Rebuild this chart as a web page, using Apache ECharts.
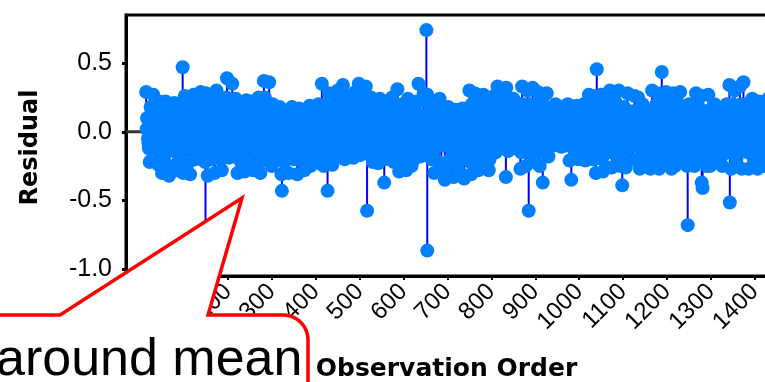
<!DOCTYPE html>
<html><head><meta charset="utf-8">
<script src="https://cdn.jsdelivr.net/npm/echarts@6/dist/echarts.min.js"></script>
<style>html,body{margin:0;padding:0;background:#fff}#c{width:765px;height:382px}</style>
</head><body><div id="c"></div>
<script>
// ---- data ----
const yTickValues = [-1, -0.5, 0, 0.5];
const xTickValues = [0, 100, 200, 300, 400, 500, 600, 700, 800, 900, 1000, 1100, 1200, 1300, 1400, 1500];
// residuals sampled at observations 14, 18, 22, ... (set A), 16, 20, 24, ... (set B), 15, 19, 23, ... (set C)
const denseStartA = 14, denseStartB = 16, denseStartC = 15, denseStep = 4;
const denseResidualsA = [
  0.29, -0.05, -0.22, 0.12, 0.27, -0.15, 0.04, -0.24, 0.2, -0.3, 0.08, 0.22, -0.12, -0.32, 0.15, -0.02, 0.21, -0.28, 0.1, -0.18,
  0.05, -0.3, 0.26, -0.1, 0.18, -0.31, 0.02, 0.27, -0.2, 0.14, -0.08, 0.29, -0.18, 0.1, 0.28, -0.32, 0.03, -0.2, 0.22, -0.3,
  0.3, -0.15, 0.08, -0.28, 0.2, -0.05, 0.39, -0.19, 0.12, 0.35, -0.1, 0.24, -0.3, 0.05, -0.22, 0.18, -0.29, 0.23, 0.0, -0.25,
  0.22, -0.28, 0.1, -0.1, 0.25, -0.3, 0.15, 0.37, -0.21, 0.05, 0.36, -0.15, 0.2, -0.05, 0.12, -0.2, 0.18, -0.31, 0.08, -0.12,
  0.15, -0.3, 0.05, 0.18, -0.2, 0.1, -0.31, 0.17, -0.08, 0.02, -0.28, 0.16, -0.15, 0.19, 0.0, -0.22, 0.12, -0.1, 0.2, -0.23,
  0.35, -0.25, 0.1, -0.12, 0.28, 0.05, -0.24, 0.22, -0.05, 0.3, -0.18, 0.15, 0.34, -0.2, 0.02, 0.26, -0.15, 0.12, -0.19, 0.29,
  0.05, 0.35, -0.17, 0.2, -0.05, 0.33, -0.15, 0.1, 0.25, -0.22, 0.0, 0.18, -0.23, 0.24, -0.1, 0.12, -0.2, 0.22, 0.03, -0.18,
  0.25, -0.22, 0.1, 0.31, -0.29, 0.05, 0.2, -0.12, -0.28, 0.24, 0.0, -0.25, 0.15, -0.08, 0.22, 0.35, -0.18, 0.1, 0.28, -0.15,
  0.27, -0.16, 0.08, 0.2, -0.3, 0.12, -0.05, 0.24, -0.28, 0.15, -0.35, 0.02, 0.18, -0.2, 0.1, -0.33, 0.16, -0.1, 0.05, -0.3,
  0.17, -0.34, 0.05, -0.15, 0.3, -0.31, 0.12, 0.28, -0.05, -0.28, 0.2, 0.0, 0.27, -0.2, 0.1, -0.28, 0.22, -0.1, 0.26, -0.15,
  0.33, -0.12, 0.1, 0.25, -0.05, 0.32, -0.14, 0.18, 0.0, 0.24, -0.12, 0.1, 0.2, -0.27, 0.33, 0.05, -0.25, 0.3, -0.1, 0.15,
  0.32, -0.22, 0.1, 0.29, -0.25, 0.05, 0.2, -0.1, 0.28, -0.18, 0.12, 0.0, -0.1, 0.2, 0.08, -0.08, 0.18, -0.05, 0.15, -0.1,
  0.2, -0.21, 0.05, 0.15, -0.15, 0.19, -0.2, 0.1, -0.05, 0.2, -0.21, 0.12, 0.27, -0.14, 0.05, 0.26, -0.3, 0.1, -0.12, 0.27,
  -0.29, 0.15, 0.27, -0.05, 0.3, -0.26, 0.1, 0.22, -0.15, 0.3, -0.25, 0.0, 0.18, -0.26, 0.28, -0.1, 0.12, -0.2, 0.26, 0.05,
  0.25, -0.27, 0.1, -0.05, 0.12, -0.2, 0.05, -0.27, 0.3, 0.15, -0.1, 0.28, -0.27, 0.2, 0.0, -0.22, 0.29, -0.15, 0.1, -0.27,
  0.28, -0.25, 0.12, 0.0, 0.29, -0.2, 0.05, 0.18, -0.25, 0.2, -0.1, 0.1, -0.25, 0.28, 0.02, -0.2, 0.26, -0.12, 0.15, -0.25,
  0.27, -0.25, 0.05, 0.15, -0.22, 0.18, -0.05, 0.1, -0.25, 0.17, 0.0, -0.15, 0.34, -0.27, 0.1, 0.3, -0.2, 0.05, 0.33, -0.27,
  0.36, -0.1, 0.2, -0.27, 0.05, 0.24, -0.2, 0.15, -0.27, 0.22, 0.0, -0.25, 0.18, -0.1, 0.24, -0.26, 0.1, 0.2, -0.2, 0.05
];
const denseResidualsB = [
  0.1, -0.12, 0.18, -0.2, 0.0, 0.14, -0.1, 0.22, -0.16, 0.05, -0.22, 0.16, 0.0, -0.14, 0.08, -0.25, 0.12, -0.06, 0.2, -0.2,
  -0.15, 0.12, -0.05, 0.2, -0.22, 0.08, -0.12, 0.15, 0.0, -0.15, 0.22, -0.05, 0.1, -0.22, 0.05, 0.18, -0.12, 0.1, -0.1, 0.15,
  -0.08, 0.2, -0.2, 0.12, -0.12, 0.25, 0.05, -0.1, 0.2, -0.18, 0.1, -0.05, 0.15, -0.2, 0.1, -0.12, 0.05, -0.15, 0.15, 0.08,
  -0.12, 0.12, -0.2, 0.2, -0.05, 0.05, -0.15, 0.25, 0.0, -0.12, 0.18, -0.25, 0.08, 0.15, -0.18, 0.05, -0.08, 0.1, -0.22, 0.15,
  -0.1, 0.08, -0.18, 0.12, 0.0, -0.12, 0.1, -0.2, 0.05, 0.14, -0.1, -0.02, 0.1, -0.25, 0.08, 0.12, -0.05, 0.15, -0.15, 0.06,
  0.12, -0.1, 0.2, -0.2, 0.05, -0.05, 0.15, -0.15, 0.22, 0.1, -0.08, 0.25, -0.1, 0.05, 0.2, -0.12, 0.08, -0.05, 0.18, -0.1,
  0.2, -0.08, 0.1, -0.12, 0.25, 0.05, -0.05, 0.18, -0.15, 0.12, 0.2, -0.1, 0.05, -0.15, 0.15, 0.0, -0.12, 0.1, -0.08, 0.15,
  -0.1, 0.15, -0.18, 0.08, 0.18, -0.2, 0.12, -0.05, 0.2, -0.15, 0.1, 0.05, -0.2, 0.15, -0.05, 0.22, 0.05, -0.1, 0.12, 0.0,
  -0.05, 0.15, -0.2, 0.1, -0.12, 0.2, -0.22, 0.05, 0.12, -0.1, 0.1, -0.25, -0.05, 0.1, -0.15, 0.05, -0.22, 0.12, -0.18, 0.1,
  -0.2, 0.1, -0.1, 0.05, -0.22, 0.2, -0.15, 0.05, 0.15, -0.18, 0.1, -0.12, 0.2, -0.05, 0.15, -0.2, 0.05, 0.15, -0.15, 0.1,
  0.2, 0.0, -0.08, 0.15, 0.1, -0.05, 0.2, 0.05, -0.08, 0.15, 0.02, -0.05, 0.12, -0.15, 0.2, -0.1, 0.1, -0.15, 0.2, 0.0,
  0.15, -0.12, 0.2, -0.15, 0.1, -0.05, 0.12, 0.0, 0.15, -0.05, 0.05, 0.15, -0.05, 0.1, 0.0, 0.12, -0.08, 0.1, 0.05, -0.05,
  0.1, -0.1, 0.15, -0.05, 0.05, -0.1, 0.1, -0.15, 0.15, -0.08, 0.05, 0.2, -0.05, 0.1, -0.2, 0.15, -0.15, 0.2, 0.05, -0.2,
  0.1, -0.15, 0.05, 0.18, -0.15, 0.12, -0.05, 0.2, -0.2, 0.05, 0.15, -0.12, 0.1, -0.05, 0.15, -0.2, 0.05, 0.15, -0.1, -0.2,
  0.1, -0.12, 0.2, -0.15, 0.05, 0.08, -0.1, 0.15, -0.15, 0.05, 0.2, -0.2, 0.1, -0.1, 0.15, -0.12, 0.05, 0.2, -0.2, 0.1,
  -0.15, 0.15, -0.05, 0.2, -0.15, 0.1, -0.2, 0.1, 0.05, -0.15, 0.15, -0.2, 0.1, -0.05, 0.18, -0.12, 0.05, -0.18, 0.1, 0.15,
  -0.1, 0.15, -0.15, 0.2, 0.05, -0.1, 0.12, -0.18, 0.05, -0.12, 0.2, 0.08, -0.1, 0.2, -0.15, 0.05, 0.15, -0.12, 0.2, -0.1,
  0.15, 0.05, -0.15, 0.1, -0.1, 0.15, 0.0, -0.12, 0.12, -0.18, 0.15, 0.05, -0.1, 0.15, -0.18, 0.1, -0.05, 0.12, -0.12, 0.1
];
const denseResidualsC = [
  0.02, -0.08, 0.1, -0.03, 0.06, -0.1, 0.0, 0.08, -0.05, 0.12, -0.12, 0.04, -0.02, 0.09, -0.07, 0.01, 0.11, -0.09, 0.03, -0.04,
  0.07, -0.06, 0.0, 0.1, -0.1, 0.05, -0.02, 0.12, -0.08, 0.02, -0.05, 0.08, -0.11, 0.04, 0.0, -0.07, 0.09, -0.03, 0.06, -0.09,
  0.03, -0.1, 0.08, 0.0, -0.05, 0.11, -0.08, 0.02, 0.06, -0.12, 0.09, -0.02, 0.04, -0.07, 0.1, 0.0, -0.09, 0.05, -0.04, 0.07,
  -0.06, 0.04, 0.1, -0.1, 0.01, 0.07, -0.04, -0.11, 0.08, 0.02, -0.07, 0.11, -0.02, 0.05, -0.09, 0.09, 0.0, -0.05, 0.06, -0.12,
  0.08, -0.03, 0.05, -0.09, 0.11, 0.0, -0.06, 0.03, -0.1, 0.07, -0.01, 0.1, -0.08, 0.04, -0.04, 0.09, -0.11, 0.02, 0.06, -0.05,
  0.01, -0.09, 0.07, -0.04, 0.1, -0.07, 0.03, -0.12, 0.05, 0.0, 0.09, -0.06, 0.02, -0.1, 0.08, -0.02, 0.11, -0.08, 0.04, -0.03,
  0.06, -0.11, 0.02, 0.09, -0.05, 0.0, 0.12, -0.08, 0.04, -0.03, 0.07, -0.1, 0.01, 0.1, -0.06, 0.05, -0.09, 0.03, -0.01, 0.08,
  -0.07, 0.03, 0.1, -0.04, 0.0, -0.1, 0.06, 0.02, -0.08, 0.11, -0.03, 0.05, -0.12, 0.08, 0.01, -0.06, 0.09, -0.02, 0.04, -0.09,
  0.05, -0.02, 0.09, -0.11, 0.03, 0.07, -0.06, 0.0, 0.11, -0.08, 0.02, -0.04, 0.08, -0.1, 0.06, -0.01, 0.1, -0.07, 0.03, -0.12,
  0.09, -0.05, 0.01, 0.07, -0.09, 0.04, -0.02, 0.11, -0.07, 0.0, 0.06, -0.11, 0.03, -0.04, 0.1, -0.08, 0.05, 0.0, -0.06, 0.08,
  -0.03, 0.1, -0.08, 0.02, 0.06, -0.1, 0.04, -0.05, 0.09, 0.0, -0.12, 0.07, -0.02, 0.11, -0.06, 0.03, -0.09, 0.08, 0.01, -0.04,
  0.04, -0.07, 0.1, -0.01, 0.06, -0.1, 0.02, -0.05, 0.08, -0.09, 0.0, 0.11, -0.03, 0.05, -0.08, 0.07, -0.11, 0.03, 0.09, -0.06,
  0.0, 0.08, -0.06, 0.03, -0.1, 0.11, -0.03, 0.05, -0.08, 0.01, 0.09, -0.05, 0.06, -0.12, 0.02, 0.1, -0.07, 0.04, -0.02, 0.07,
  -0.09, 0.05, -0.01, 0.1, -0.06, 0.03, -0.11, 0.08, 0.0, -0.04, 0.06, -0.08, 0.12, -0.02, 0.04, -0.1, 0.07, 0.01, -0.05, 0.09,
  0.02, -0.08, 0.06, -0.03, 0.11, -0.1, 0.04, 0.0, -0.07, 0.09, -0.02, 0.05, -0.12, 0.08, -0.05, 0.01, 0.1, -0.09, 0.03, -0.04,
  0.07, -0.01, -0.09, 0.05, 0.1, -0.06, 0.02, -0.11, 0.08, -0.03, 0.04, -0.08, 0.11, 0.0, -0.05, 0.06, -0.1, 0.09, -0.02, 0.03,
  -0.06, 0.1, -0.04, 0.01, 0.07, -0.09, 0.05, -0.12, 0.03, 0.09, -0.02, 0.06, -0.07, 0.0, 0.11, -0.05, 0.04, -0.1, 0.08, -0.01,
  0.05, -0.08, 0.02, 0.1, -0.04, 0.07, -0.1, 0.0, 0.06, -0.06, 0.09, -0.03, 0.03, -0.09, 0.08, -0.01, 0.04, -0.07, 0.1, -0.02
];
const outlierOrder    = [97,   149,   323,   427,   517,    556,   652,  654,    833,   885,    917,   982,   1040,  1098,  1188,  1247,   1279,  1281,  1343];
const outlierResidual = [0.47, -0.75, -0.43, -0.43, -0.575, -0.37, 0.74, -0.865, -0.33, -0.575, -0.37, -0.35, 0.455, -0.39, 0.435, -0.68, -0.37, -0.41, -0.515];

const points = denseResidualsA.map((r, i) => [denseStartA + i * denseStep, r])
  .concat(denseResidualsB.map((r, i) => [denseStartB + i * denseStep, r]))
  .concat(denseResidualsC.map((r, i) => [denseStartC + i * denseStep, r]))
  .concat(outlierOrder.map((o, i) => [o, outlierResidual[i]]));

// ---- chart ----
const chart = echarts.init(document.getElementById('c'));
const arcPts = [];
for (let k = 0; k <= 12; k++) {
  const a = -Math.PI / 2 + (Math.PI / 2) * k / 12;
  arcPts.push([283 + 25 * Math.cos(a), 340 + 25 * Math.sin(a)]);
}
const calloutPts = [[-10, 315], [60, 315], [242, 198], [208, 315]].concat(arcPts).concat([[308, 400], [-10, 400]]);

chart.setOption({
  animation: false,
  backgroundColor: '#fff',
  grid: { left: 126, top: 15, width: 664, height: 261, show: true, borderColor: '#000', borderWidth: 3,
    containLabel: false, outerBoundsMode: 'none' },
  xAxis: {
    type: 'value', min: -32, max: 1480,
    splitLine: { show: false },
    axisLine: { onZero: false, lineStyle: { color: '#000', width: 3 } },
    axisTick: { customValues: xTickValues, length: 4, lineStyle: { color: '#000', width: 2 } },
    axisLabel: { customValues: xTickValues, rotate: 45, margin: 12, color: '#000',
      fontFamily: '"Liberation Sans", Arial', fontSize: 24, formatter: v => String(v) }
  },
  yAxis: {
    type: 'value', min: -1.05, max: 0.85,
    splitLine: { show: false },
    axisLine: { onZero: false, lineStyle: { color: '#000', width: 3 } },
    axisTick: { customValues: yTickValues, length: 4, lineStyle: { color: '#000', width: 3 } },
    axisLabel: { customValues: yTickValues, margin: 14, color: '#000',
      fontFamily: '"Liberation Sans", Arial', fontSize: 25,
      formatter: v => v.toFixed(1) }
  },
  series: [
    { type: 'line', data: [[-32, 0], [1480, 0]], symbol: 'none', silent: true, z: 1,
      lineStyle: { color: '#333', width: 3 } },
    { type: 'custom', z: 2, data: points, encode: { x: 0, y: 1 },
      renderItem: (params, api) => {
        const x = api.value(0), y = api.value(1);
        const p0 = api.coord([x, 0]), p1 = api.coord([x, y]);
        return { type: 'line', shape: { x1: p0[0], y1: p0[1], x2: p1[0], y2: p1[1] },
          style: { stroke: '#0000ff', lineWidth: 2 } };
      } },
    { type: 'scatter', z: 3, data: points, symbol: 'circle', symbolSize: 14, large: false,
      itemStyle: { color: '#0080ff', opacity: 1 } }
  ],
  graphic: [
    { type: 'text', z: 100, x: 31, y: 147.5, rotation: Math.PI / 2,
      style: { text: 'Residual', font: 'bold 24px "DejaVu Sans"', fill: '#000',
        align: 'center', verticalAlign: 'middle', textAlign: 'center', textVerticalAlign: 'middle' } },
    { type: 'text', z: 100, x: 446.5, y: 369,
      style: { text: 'Observation Order', font: 'bold 25px "DejaVu Sans"', fill: '#000',
        align: 'center', verticalAlign: 'middle', textAlign: 'center', textVerticalAlign: 'middle' } },
    { type: 'polygon', z: 110, shape: { points: calloutPts },
      style: { fill: '#fff', stroke: '#ff0000', lineWidth: 3.5, lineJoin: 'miter' } },
    { type: 'text', z: 120, x: -4, y: 361,
      style: { text: 'around mean', font: '52px "Liberation Sans", Arial', fill: '#000',
        align: 'left', verticalAlign: 'middle', textAlign: 'left', textVerticalAlign: 'middle' } }
  ]
});
</script></body></html>
